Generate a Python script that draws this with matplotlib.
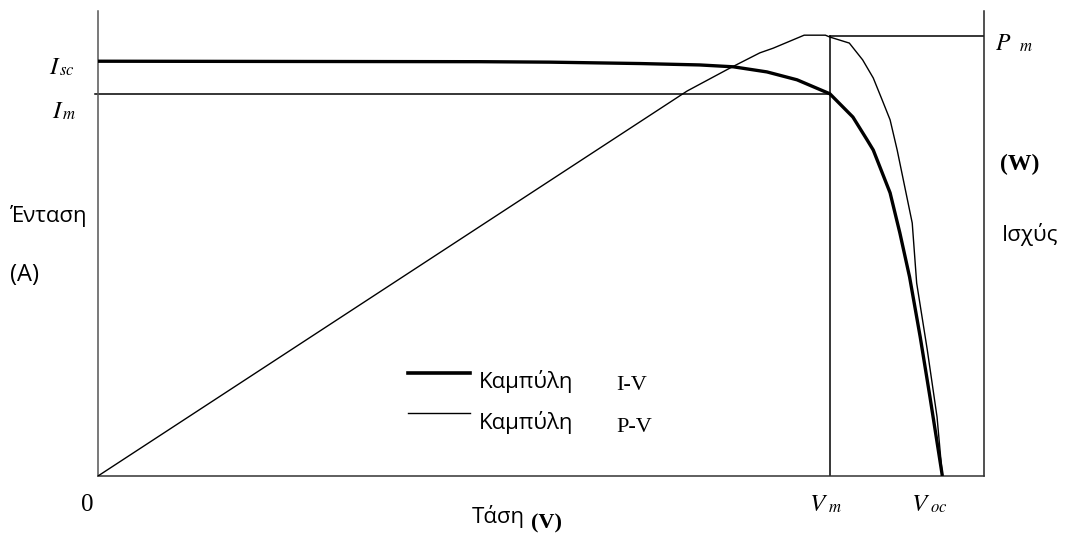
import matplotlib
matplotlib.use("Agg")
import matplotlib.pyplot as plt
import numpy as np

plt.rcParams['mathtext.fontset'] = 'stix'

# ---- data (normalised units: voltage 0-100, current/power 0-100) ----
iv_voltage = [0, 43.1, 51.0, 61.2, 67.9, 71.7, 75.5, 78.9, 82.6, 85.2, 86.8,
              87.5, 89.4, 90.5, 91.6, 92.8, 93.9, 95.3]
iv_current = [89.2, 89.1, 89.0, 88.7, 88.4, 88.0, 86.9, 85.2, 82.2, 77.2, 72.3,
              70.1, 60.9, 52.3, 42.8, 29.9, 17.0, 0]

pv_voltage = [0, 66.5, 71.3, 74.7, 76.2, 79.7, 82.1, 82.6, 84.8, 86.3, 87.5,
              88.5, 89.4, 90.2, 91.9, 92.4, 93.6, 94.7, 95.3]
pv_power = [0, 82.8, 87.7, 91.0, 92.0, 94.8, 94.8, 94.4, 93.1, 89.5, 85.6,
            80.9, 76.6, 70.1, 54.4, 41.5, 27.1, 12.7, 0]

V_m = 82.6
V_oc = 95.3
I_m = 82.2
P_m = 94.6

legend_labels = ["Καμπύλη", "Καμπύλη"]
legend_tags = ["I-V", "P-V"]

W, H = 1065, 533
fig = plt.figure(figsize=(W / 100, H / 100), dpi=100)
ax = fig.add_axes([98 / W, 1 - 476 / H, (984 - 98) / W, (476 - 11) / H])
ax.set_xlim(0, 100)
ax.set_ylim(0, 100)
ax.set_xticks([])
ax.set_yticks([])
ax.spines['top'].set_visible(False)
for s in ['left', 'right', 'bottom']:
    ax.spines[s].set_linewidth(1.1)
ax.spines['left'].set_color('#555555')
ax.spines['bottom'].set_color('#333333')
ax.spines['right'].set_color('#222222')

# curves
ax.plot(iv_voltage, iv_current, color='black', lw=2.4, solid_capstyle='butt', zorder=3)
ax.plot(pv_voltage, pv_power, color='black', lw=1.0, zorder=3)

# guide lines
ax.plot([-0.35, V_m], [I_m, I_m], color='black', lw=1.1, clip_on=False)
ax.plot([V_m, V_m], [0, P_m], color='black', lw=1.1)
ax.plot([V_m, 100], [P_m, P_m], color='black', lw=1.1)


def px(x, y):
    return x / W, 1 - y / H


serif = 'Liberation Serif'
sans = ['Open Sans', 'DejaVu Sans']


def sub_label(x, y, main, sub, xs, size=18, subsize=12):
    fig.text(*px(x, y), f"${main}$", fontsize=size, ha='left', va='baseline')
    fig.text(*px(xs, y + 1), f"${sub}$", fontsize=subsize, ha='left', va='baseline')


sub_label(49, 74, 'I', 'sc', 59)
sub_label(52, 118, 'I', 'm', 62)
sub_label(995, 50, 'P', 'm', 1019, size=17)
sub_label(809, 511, 'V', 'm', 828)
sub_label(911, 511, 'V', 'oc', 930)
fig.text(*px(81, 511), "0", fontsize=18, family=serif, ha='left', va='baseline')

# axis titles
fig.text(*px(10, 222), "Ένταση", fontsize=16, family=sans, ha='left', va='baseline')
fig.text(*px(10, 281), "(A)", fontsize=17, family=sans, ha='left', va='baseline')
fig.text(*px(1000, 170), "(W)", fontsize=17, family=serif, weight='bold', ha='left', va='baseline')
fig.text(*px(1002, 241), "Ισχύς", fontsize=16, family=sans, ha='left', va='baseline')
fig.text(*px(472, 523), "Τάση", fontsize=16, family=sans, ha='left', va='baseline')
fig.text(*px(531, 528), "(V)", fontsize=16, family=serif, weight='bold', ha='left', va='baseline')

# legend (drawn manually)
leg_y = [373, 413]
leg_lw = [2.6, 1.0]
leg_text_y = [388, 429]
leg_tag_y = [390, 432]
for i in range(2):
    fig.add_artist(plt.Line2D([408 / W, 470 / W], [1 - leg_y[i] / H] * 2,
                              color='black', lw=leg_lw[i]))
    fig.text(*px(479, leg_text_y[i]), legend_labels[i], fontsize=16, family=sans,
             ha='left', va='baseline')
    fig.text(*px(616, leg_tag_y[i]), legend_tags[i], fontsize=16, family=serif,
             ha='left', va='baseline')

fig.savefig("out.png", dpi=100)
